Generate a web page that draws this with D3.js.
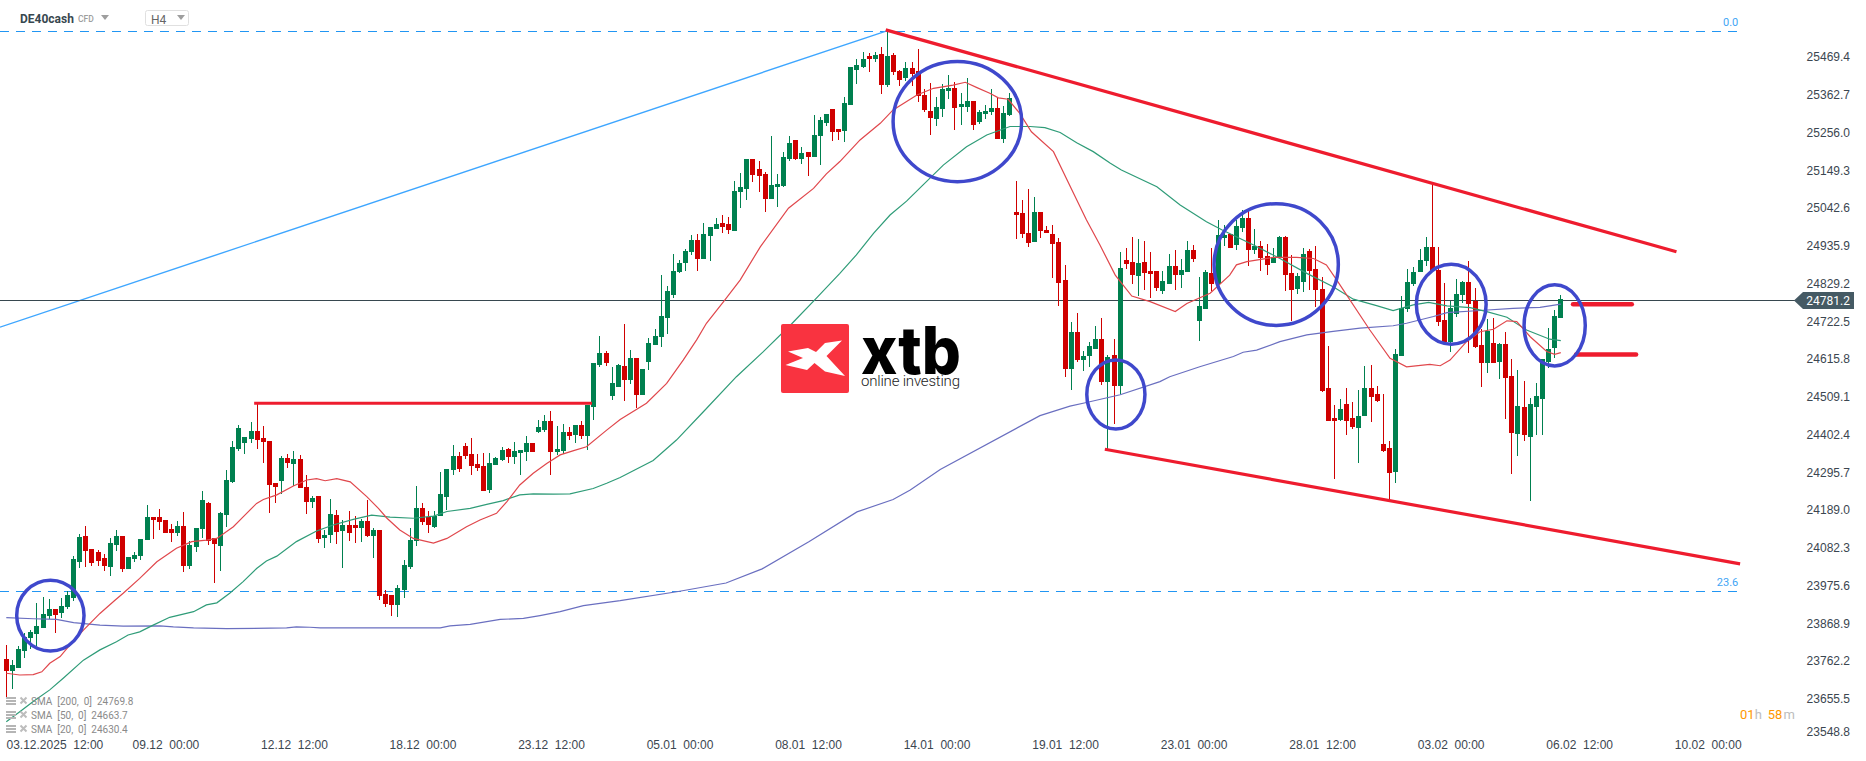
<!DOCTYPE html>
<html>
<head>
<meta charset="utf-8">
<title>DE40cash H4</title>
<script src="https://cdn.jsdelivr.net/npm/d3@7"></script>
<style>
  html, body { margin: 0; background: #fff; }
  svg { display: block; font-family: Roboto, sans-serif; }
  .axis text { font-size: 12px; fill: #3b4650; white-space: pre; }
  .axis .domain { display: none; }
</style>
</head>
<body>
<svg id="chart" width="1866" height="761"></svg>
<script>
var WIDTH = 1866;
var HEIGHT = 761;

var opens = [
  23768,23734,23743,23791,23827,23838,23855,23890,23909,23898,23916,23941,24042,24116,24079,24070,24054,24028,24090,24116,
  24022,24051,24059,24104,24169,24169,24161,24136,24124,24144,24031,24085,24136,24209,24110,24088,24175,24268,24362,24379,
  24390,24413,24393,24384,24266,24271,24336,24319,24333,24254,24212,24229,24110,24119,24175,24130,24147,24147,24138,24158,
  24116,24133,23952,23949,23921,23963,24028,24102,24195,24169,24141,24172,24226,24302,24342,24370,24348,24319,24314,24246,
  24316,24331,24362,24339,24350,24353,24379,24410,24415,24441,24353,24356,24410,24401,24429,24398,24480,24599,24633,24511,
  24537,24596,24557,24619,24514,24608,24656,24678,24732,24797,24862,24887,24918,24952,24899,24964,24983,25000,24998,24978,
  25088,25096,25181,25153,25139,25068,25102,25105,25181,25235,25181,25201,25187,25246,25283,25323,25266,25260,25334,25433,
  25441,25472,25464,25478,25390,25475,25430,25410,25438,25430,25362,25317,25294,25323,25373,25382,25328,25328,25345,25286,
  25308,25314,25325,25238,25306,25031,25029,24972,24947,25031,24981,24969,24947,24839,24588,24692,24613,24625,24644,24673,
  24551,24627,24540,24896,24890,24851,24890,24865,24865,24808,24828,24879,24853,24862,24924,24723,24757,24859,24828,24958,
  24969,24938,24986,25014,24924,24935,24907,24887,24901,24961,24859,24814,24834,24921,24870,24814,24534,24449,24444,24489,
  24449,24421,24455,24534,24517,24376,24365,24297,24625,24757,24828,24862,24893,24933,24868,24726,24664,24743,24797,24834,
  24780,24656,24605,24661,24608,24658,24568,24404,24480,24396,24480,24503,24608,24647,24732
];
var highs = [
  23808,23765,23805,23841,23850,23927,23944,23938,23909,23940,23960,24059,24121,24144,24079,24076,24065,24110,24133,24116,
  24056,24070,24107,24203,24169,24192,24161,24150,24158,24184,24102,24138,24243,24212,24110,24184,24302,24384,24429,24396,
  24438,24490,24427,24384,24266,24342,24348,24356,24345,24288,24229,24229,24133,24220,24189,24161,24186,24172,24164,24218,
  24138,24133,23963,23949,23977,24048,24138,24257,24209,24186,24186,24297,24305,24373,24353,24379,24393,24348,24350,24350,
  24339,24367,24364,24381,24359,24398,24379,24444,24458,24469,24427,24432,24424,24429,24441,24486,24605,24681,24639,24593,
  24602,24715,24641,24619,24588,24675,24701,24853,24822,24913,24896,24927,24966,24969,25000,24989,25014,25023,25017,25119,
  25142,25181,25181,25176,25144,25246,25139,25201,25246,25235,25215,25201,25306,25300,25308,25323,25266,25356,25441,25464,
  25484,25481,25484,25498,25546,25481,25433,25455,25455,25492,25379,25396,25356,25393,25419,25399,25368,25410,25345,25320,
  25334,25379,25354,25331,25368,25119,25065,25096,25074,25031,24992,24995,24958,24882,24721,24746,24639,24664,24709,24732,
  24627,24673,24918,24930,24961,24955,24949,24918,24865,24865,24913,24924,24899,24949,24938,24848,24868,24930,25009,24995,
  24969,25009,25037,25037,24983,24949,24941,24930,24964,24964,24910,24859,24930,24927,24935,24848,24653,24486,24503,24534,
  24495,24528,24596,24599,24540,24517,24384,24644,24794,24870,24876,24927,24961,25111,24933,24831,24780,24842,24836,24893,
  24817,24701,24729,24732,24661,24692,24616,24585,24554,24506,24548,24616,24704,24755,24797
];
var lows = [
  23660,23683,23743,23772,23796,23806,23855,23880,23841,23885,23909,23933,24024,24028,24031,24031,24017,24003,24073,24014,
  24022,24043,24048,24104,24107,24133,24124,24099,24116,24014,24022,24070,24110,24090,23983,24017,24141,24266,24356,24348,
  24379,24362,24322,24181,24209,24234,24308,24257,24251,24178,24195,24096,24082,24096,24093,24025,24102,24096,24099,24113,
  24054,23935,23915,23890,23887,23941,24022,24088,24147,24124,24138,24172,24189,24288,24297,24333,24288,24299,24243,24237,
  24316,24328,24322,24319,24288,24328,24353,24407,24410,24288,24345,24348,24387,24379,24390,24359,24444,24593,24596,24500,
  24537,24497,24545,24478,24514,24585,24656,24650,24687,24788,24859,24865,24910,24865,24899,24893,24983,24972,24969,24978,
  25043,25065,25116,25088,25031,25068,25046,25102,25176,25178,25167,25133,25187,25164,25274,25232,25235,25229,25334,25393,
  25438,25427,25455,25365,25385,25419,25388,25402,25388,25342,25314,25249,25274,25300,25351,25263,25277,25314,25263,25280,
  25294,25306,25238,25226,25303,24955,24958,24933,24947,24958,24972,24845,24766,24565,24528,24608,24582,24593,24644,24543,
  24362,24432,24517,24870,24828,24794,24811,24788,24808,24800,24828,24811,24817,24862,24890,24667,24757,24808,24828,24935,
  24930,24924,24975,24879,24913,24865,24853,24887,24901,24808,24723,24800,24805,24811,24763,24523,24441,24277,24441,24401,
  24418,24322,24455,24438,24495,24353,24218,24266,24625,24749,24822,24862,24879,24865,24709,24664,24636,24735,24774,24633,
  24647,24537,24576,24605,24560,24446,24291,24342,24384,24215,24401,24401,24591,24619,24732
];
var closes = [
  23734,23751,23796,23831,23845,23862,23895,23909,23892,23918,23949,24051,24113,24073,24039,24045,24031,24096,24116,24022,
  24056,24062,24107,24169,24161,24155,24124,24124,24144,24031,24090,24138,24218,24102,24093,24181,24274,24367,24421,24396,
  24413,24387,24381,24260,24254,24336,24322,24333,24251,24212,24223,24107,24119,24178,24127,24147,24124,24138,24158,24116,
  24133,23946,23924,23921,23969,24034,24104,24195,24155,24147,24172,24234,24305,24342,24305,24342,24314,24308,24243,24322,
  24336,24359,24339,24356,24359,24379,24353,24424,24441,24353,24362,24410,24398,24429,24398,24486,24605,24633,24605,24548,
  24599,24557,24619,24514,24588,24661,24681,24737,24808,24865,24887,24921,24952,24899,24969,24989,24998,24989,24981,25091,
  25102,25181,25136,25133,25068,25108,25111,25187,25226,25181,25198,25187,25249,25291,25308,25257,25257,25339,25441,25447,
  25464,25464,25475,25390,25472,25427,25404,25438,25421,25359,25320,25297,25328,25379,25382,25325,25337,25345,25277,25314,
  25317,25325,25238,25311,25354,25023,24969,24944,25031,24978,24972,24941,24831,24588,24692,24613,24625,24653,24673,24551,
  24622,24540,24873,24885,24853,24887,24859,24856,24817,24836,24879,24853,24868,24924,24899,24766,24862,24828,24966,24966,
  24930,24992,25014,24924,24935,24901,24882,24901,24961,24853,24811,24851,24913,24865,24811,24526,24441,24441,24475,24441,
  24424,24455,24534,24509,24497,24356,24294,24630,24760,24834,24862,24896,24933,24865,24721,24664,24760,24800,24834,24771,
  24650,24605,24695,24605,24658,24562,24407,24483,24401,24489,24511,24616,24644,24737,24786
];

var sma20Index = [
  0,2.2,4.4,5.8,7.1,8.8,10.4,12.6,15.3,17.8,19.1,21.8,24.6,27.8,30.3,32.7,34.4,37.1,38.7,40.9,42,44.2,46.9,49.1,50.7,52.1,54,56.2,58.9,60.8,
  62.2,64.3,66.5,69.8,72,75.2,77.4,80.1,81.8,83.9,86.1,88.3,90.5,92.7,94.8,98.1,100.3,104.6,107.9,110.6,112.8,114.4,117.2,119.9,123.2,127.8,131.9,134,136.2,139.5,
  142.8,144.9,148.8,151.5,154.7,156.7,158.6,160.7,162.1,163.7,165.6,167.5,171.1,174.4,176.5,178.7,181.2,183.9,186.9,191,192.9,196.7,199.9,201,202.7,207,210.8,213.6,215.7,217.4,
  222.8,226.1,228.8,232.6,234.3,235.9,238.6,240.8,243,245.2,246.8,249,251.7,253,254
];
var sma20Values = [
  23728,23723,23724,23732,23756,23775,23808,23850,23897,23935,23954,23996,24043,24081,24100,24104,24109,24142,24170,24208,24219,24232,24257,24274,24278,24272,24278,24269,24227,24194,
  24166,24133,24109,24096,24109,24142,24161,24180,24213,24260,24293,24321,24345,24357,24368,24415,24445,24491,24547,24613,24670,24717,24778,24839,24933,25042,25098,25139,25174,25235,
  25282,25320,25362,25381,25390,25398,25383,25367,25354,25350,25310,25258,25202,25084,25009,24938,24853,24794,24778,24750,24773,24802,24853,24882,24891,24903,24903,24900,24882,24839,
  24698,24618,24594,24601,24597,24613,24665,24693,24700,24724,24722,24679,24637,24629,24634
];
var sma50Index = [
  0,2.2,4.4,7.1,9.3,12.6,15.3,18,19.9,21.8,24,26.7,30.6,32.7,34.4,36.5,38.7,40.9,42.5,44.2,47.4,50.7,53.4,56.7,59.7,62.7,66.5,69.8,72,75.8,
  78.5,81.2,83.9,86.1,89.4,92.1,95.9,98.1,100.3,105.7,109.5,113.9,119.3,123.7,128.3,132.1,136.2,138.9,141.7,144.4,147.1,149.8,153.1,156.9,160.2,164,167.3,169.7,172.2,174.9,
  177.6,180.4,182.2,188,191.8,196.1,198.6,203.8,208.1,212.5,216.8,220.1,223.9,226.6,229.9,232.4,235.4,239.2,241.9,245.2,248.4,252.2,254
];
var sma50Values = [
  23591,23619,23648,23681,23714,23765,23794,23817,23836,23845,23864,23886,23902,23921,23927,23954,23987,24024,24045,24059,24100,24130,24147,24163,24175,24169,24166,24172,24185,24194,
  24205,24216,24232,24235,24234,24235,24250,24265,24281,24329,24387,24467,24566,24637,24715,24783,24858,24910,24971,25023,25062,25108,25164,25216,25249,25273,25273,25270,25256,25227,
  25202,25169,25150,25103,25051,25004,24981,24938,24900,24858,24820,24785,24767,24753,24769,24776,24766,24761,24750,24734,24698,24672,24668
];
var sma200Index = [
  0,4.4,8.2,11,15.3,19.1,25.1,27.3,30.6,36,45.8,47.4,49.6,51.3,70.9,72.5,75.8,80.7,84.5,87.2,90.5,94.3,100.3,109.8,117.6,123.5,131.2,139,144.9,147.7,
  152.6,168.9,173.8,176.5,182,188.5,190.1,195,200.5,202.1,204.3,208.1,212.5,216.8,221.2,226.6,228.8,233.2,235.4,240.8,246.2,250.6,254
];
var sma200Values = [
  23885,23882,23880,23871,23864,23861,23862,23859,23856,23854,23856,23859,23858,23856,23856,23862,23866,23880,23883,23891,23902,23919,23933,23959,23983,24023,24100,24184,24219,24246,
  24304,24456,24483,24493,24515,24552,24566,24594,24623,24635,24641,24665,24684,24694,24703,24710,24717,24736,24747,24753,24759,24762,24771
];

var priceTicks = d3.range(0, 19).map(n => +(25469.4 - n * 106.7).toFixed(1));
var currentPrice = 24781.2;
var timeTickIndex = [5, 26, 47, 68, 89, 110, 131, 152, 173, 194, 215, 236, 257, 278];
var timeTickLabels = ['03.12.2025  12:00', '09.12  00:00', '12.12  12:00', '18.12  00:00', '23.12  12:00', '05.01  00:00', '08.01  12:00',
  '14.01  00:00', '19.01  12:00', '23.01  00:00', '28.01  12:00', '03.02  00:00', '06.02  12:00', '10.02  00:00'];
var fibLevels = [25542, 23960];
var fibLabels = ['0.0', '23.6'];
var legendLabels = ['SMA  [200,  0]  24769.8', 'SMA  [50,  0]  24663.7', 'SMA  [20,  0]  24630.4'];

// annotations drawn on the chart, as [index, price] pairs
var blueTrend = [[-1.03, 24706], [144, 25544]];
var redTrends = [
  [[143.7, 25546], [272.9, 24919]],
  [[179.5, 24361], [283.3, 24037]],
  [[40.5, 24491], [95.7, 24491]]
];
var redMarks = [
  [[256, 24771], [265.6, 24771]],
  [[256.5, 24629], [266.3, 24629]]
];
// centre index, centre price, radius in candles, radius in price
var circles = [
  [7.2, 23891, 5.5, 100],
  [155.4, 25287, 10.5, 170],
  [181.3, 24516, 4.75, 97.5],
  [207.5, 24883, 10.15, 172],
  [236.1, 24771, 5.7, 113],
  [253, 24711, 5, 114.5]
];

var GREEN = '#00804f';
var RED = '#cf0000';
var CIRCLE_BLUE = '#3f48cc';
var TREND_RED = '#ee1c2e';

var svg = d3.select('#chart');

var xScale = d3.scaleLinear().domain([0, 254]).range([6.3, 1560.8]);
var yScale = d3.scaleLinear().domain([25630.5, 23480]).range([0, HEIGHT]);

var line = d3.line().x(d => xScale(d[0])).y(d => yScale(d[1]));

// fibonacci levels sit under everything
var fibGroup = svg.append('g');
fibLevels.forEach((level, i) => {
  fibGroup.append('line')
    .attr('x1', xScale(-1.03))
    .attr('x2', xScale(283))
    .attr('y1', Math.round(yScale(level)) + 0.5)
    .attr('y2', Math.round(yScale(level)) + 0.5)
    .attr('stroke', '#2196f3')
    .attr('stroke-dasharray', '9 7');

  fibGroup.append('text')
    .attr('x', xScale(283))
    .attr('y', yScale(level) - 5)
    .attr('text-anchor', 'end')
    .attr('font-size', 11)
    .attr('fill', '#42a5f5')
    .text(fibLabels[i]);
});

svg.append('path')
  .attr('d', line(blueTrend))
  .attr('fill', 'none')
  .attr('stroke', '#3ea6ff')
  .attr('stroke-width', 1.4);

// current price line and tag
var priceY = yScale(currentPrice);
svg.append('line')
  .attr('x1', 0)
  .attr('x2', 1796)
  .attr('y1', Math.floor(priceY) + 0.5)
  .attr('y2', Math.floor(priceY) + 0.5)
  .attr('stroke', '#37474f');

// candles
var candles = d3.range(opens.length).map(i => ({i: i, o: opens[i], h: highs[i], l: lows[i], c: closes[i]}));
var candleGroup = svg.append('g').attr('shape-rendering', 'crispEdges');

candleGroup.selectAll('.wick')
  .data(candles)
  .enter()
  .append('rect')
  .attr('class', 'wick')
  .attr('x', d => Math.floor(xScale(d.i)))
  .attr('y', d => Math.round(yScale(d.h)))
  .attr('width', 1)
  .attr('height', d => Math.max(1, Math.round(yScale(d.l)) - Math.round(yScale(d.h))))
  .attr('fill', d => d.c >= d.o ? GREEN : RED);

candleGroup.selectAll('.body')
  .data(candles)
  .enter()
  .append('rect')
  .attr('class', 'body')
  .attr('x', d => Math.floor(xScale(d.i)) - 2)
  .attr('y', d => Math.round(yScale(Math.max(d.o, d.c))))
  .attr('width', 5)
  .attr('height', d => Math.max(1, Math.round(yScale(Math.min(d.o, d.c))) - Math.round(yScale(Math.max(d.o, d.c)))))
  .attr('fill', d => d.c >= d.o ? GREEN : RED);

// moving averages
[
  {index: sma200Index, values: sma200Values, color: '#6a6fc0'},
  {index: sma50Index, values: sma50Values, color: '#2f9c78'},
  {index: sma20Index, values: sma20Values, color: '#e0474c'}
].forEach(s => {
  svg.append('path')
    .attr('d', line(s.index.map((x, i) => [x, s.values[i]])))
    .attr('fill', 'none')
    .attr('stroke', s.color)
    .attr('stroke-width', 1.2);
});

// red trend lines and target marks
redTrends.forEach(t => {
  svg.append('path')
    .attr('d', line(t))
    .attr('fill', 'none')
    .attr('stroke', TREND_RED)
    .attr('stroke-width', 3.2);
});

redMarks.forEach(t => {
  svg.append('path')
    .attr('d', line(t))
    .attr('fill', 'none')
    .attr('stroke', TREND_RED)
    .attr('stroke-width', 4.5)
    .attr('stroke-linecap', 'round');
});

svg.selectAll('.circle')
  .data(circles)
  .enter()
  .append('ellipse')
  .attr('class', 'circle')
  .attr('cx', d => xScale(d[0]))
  .attr('cy', d => yScale(d[1]))
  .attr('rx', d => xScale(d[0] + d[2]) - xScale(d[0]))
  .attr('ry', d => yScale(d[1] - d[3]) - yScale(d[1]))
  .attr('fill', 'none')
  .attr('stroke', CIRCLE_BLUE)
  .attr('stroke-width', 3.5);

// xtb logo
var logo = svg.append('g').attr('transform', 'translate(781, 324)');
logo.append('rect')
  .attr('width', 68)
  .attr('height', 69)
  .attr('rx', 2)
  .attr('fill', '#f93340');
logo.append('path')
  .attr('d', 'M7,27.5 L27,24 L35,28 L44,19 L61,16.5 L45.5,32 L64,52 L44,47.5 L33.5,39 L26,46 L4.5,41 L22,34 Z')
  .attr('fill', '#fff');
logo.append('text')
  .attr('x', 80)
  .attr('y', 49.5)
  .attr('font-family', 'Inter, Roboto, sans-serif')
  .attr('font-weight', 800)
  .attr('font-size', 66)
  .attr('textLength', 100)
  .attr('lengthAdjust', 'spacingAndGlyphs')
  .attr('fill', '#000')
  .text('xtb');
logo.append('text')
  .attr('x', 80)
  .attr('y', 62)
  .attr('font-family', 'Roboto, sans-serif')
  .attr('font-weight', 300)
  .attr('font-size', 15)
  .attr('textLength', 99)
  .attr('fill', '#1a1a1a')
  .text('online investing');

// axes
var yAxis = d3.axisLeft(yScale)
  .tickValues(priceTicks)
  .tickFormat(d => d.toFixed(1))
  .tickSize(0)
  .tickPadding(0);

var yAxisGroup = svg.append('g')
  .attr('class', 'axis')
  .attr('transform', 'translate(1850, 0)')
  .call(yAxis);

yAxisGroup.selectAll('.tick')
  .filter((d, i) => i === priceTicks.length - 1)
  .select('text')
  .attr('dy', '-0.1em');

var xAxis = d3.axisBottom(xScale)
  .tickValues(timeTickIndex)
  .tickFormat((d, i) => timeTickLabels[i])
  .tickSize(0)
  .tickPadding(0);

var xAxisGroup = svg.append('g')
  .attr('class', 'axis')
  .attr('transform', 'translate(0, 740)')
  .call(xAxis);

// first label is pushed in so it stays on the page
xAxisGroup.selectAll('.tick')
  .filter((d, i) => i === 0)
  .select('text')
  .attr('text-anchor', 'start')
  .attr('x', 6 - xScale(timeTickIndex[0]));

var tagY = Math.floor(priceY) + 0.5;
svg.append('path')
  .attr('d', `M1794,${tagY} L1803,${tagY - 8.5} L1854,${tagY - 8.5} L1854,${tagY + 8.5} L1803,${tagY + 8.5} Z`)
  .attr('fill', '#455a64');
svg.append('text')
  .attr('x', 1850)
  .attr('y', tagY + 4.5)
  .attr('text-anchor', 'end')
  .attr('font-size', 12)
  .attr('fill', '#fff')
  .text(currentPrice.toFixed(1));

// candle countdown
var countdown = svg.append('text')
  .attr('x', 1740)
  .attr('y', 719)
  .attr('font-size', 13)
  .attr('fill', '#ff9800');
countdown.append('tspan').text('01');
countdown.append('tspan').attr('fill', '#bdbdbd').text('h');
countdown.append('tspan').attr('dx', 6).text('58');
countdown.append('tspan').attr('fill', '#bdbdbd').attr('dx', 1).text('m');

// indicator legend
var legend = svg.selectAll('.legend')
  .data(legendLabels)
  .enter()
  .append('g')
  .attr('class', 'legend')
  .attr('transform', (d, i) => `translate(0, ${701 + i * 14})`);

[-4, -1, 2].forEach(dy => {
  legend.append('rect')
    .attr('x', 6)
    .attr('y', dy)
    .attr('width', 10)
    .attr('height', 2)
    .attr('fill', '#b5b5b5');
});
legend.append('path')
  .attr('d', 'M20.5,-3.5 L26.5,2.5 M26.5,-3.5 L20.5,2.5')
  .attr('stroke', '#bdbdbd')
  .attr('stroke-width', 2);
legend.append('text')
  .attr('x', 31)
  .attr('y', 4)
  .attr('font-size', 10)
  .attr('fill', '#8a8a8a')
  .style('white-space', 'pre')
  .text(d => d);

// header
svg.append('text')
  .attr('x', 20)
  .attr('y', 23)
  .attr('font-size', 12)
  .attr('font-weight', 700)
  .attr('fill', '#37474f')
  .text('DE40cash');
svg.append('text')
  .attr('x', 78)
  .attr('y', 22)
  .attr('font-size', 8.5)
  .attr('font-weight', 500)
  .attr('fill', '#9e9e9e')
  .text('CFD');
svg.append('path').attr('d', 'M101,15 L109,15 L105,20 Z').attr('fill', '#9e9e9e');
svg.append('rect')
  .attr('x', 145.5)
  .attr('y', 10.5)
  .attr('width', 43)
  .attr('height', 15)
  .attr('rx', 2)
  .attr('fill', '#fff')
  .attr('stroke', '#e0e0e0');
svg.append('text')
  .attr('x', 151)
  .attr('y', 24)
  .attr('font-size', 12)
  .attr('fill', '#666')
  .text('H4');
svg.append('path').attr('d', 'M177,15 L185,15 L181,20 Z').attr('fill', '#9e9e9e');
</script>
</body>
</html>
